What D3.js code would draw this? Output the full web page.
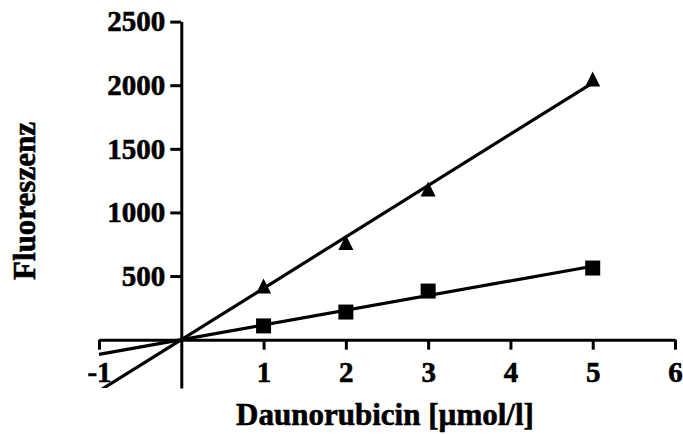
<!DOCTYPE html>
<html>
<head>
<meta charset="utf-8">
<script src="https://cdn.jsdelivr.net/npm/d3@7"></script>
<style>
  html, body { margin: 0; padding: 0; background: #fff; }
  svg { display: block; }
  text { font-family: "Liberation Serif", "Times New Roman", serif; font-weight: bold; fill: #000; stroke: #000; stroke-width: 0.6px; }
</style>
</head>
<body>
<svg id="chart" width="683" height="435"></svg>
<script>
// Data
const concentrations = [1, 2, 3, 5];
const triangleValues = [421, 763, 1184, 2049];
const squareValues = [108, 217, 382, 563];
const xTicks = [-1, 1, 2, 3, 4, 5, 6];
const yTicks = [500, 1000, 1500, 2000, 2500];
const xDomain = [-1, 6];
const yDomain = [-380, 2500];
const fitRange = [-1, 5];

const svg = d3.select("#chart");
const x = d3.scaleLinear().domain(xDomain).range([99, 675]);
const y = d3.scaleLinear().domain(yDomain).range([388, 21.6]);

// least squares through origin
function slopeThroughOrigin(xs, ys) {
  let sxy = 0, sxx = 0;
  xs.forEach((v, i) => { sxy += v * ys[i]; sxx += v * v; });
  return sxy / sxx;
}

svg.append("clipPath").attr("id", "clip")
  .append("rect")
  .attr("x", x(xDomain[0]) - 3).attr("y", y(yDomain[1]))
  .attr("width", x(xDomain[1]) - x(xDomain[0]) + 6)
  .attr("height", y(yDomain[0]) - y(yDomain[1]));

const fmt = d => String(d);

// Axes
const xAxis = svg.append("g")
  .attr("transform", `translate(0,${y(0)})`)
  .call(d3.axisBottom(x).tickValues(xTicks).tickSize(10).tickSizeOuter(0).tickFormat(fmt));
xAxis.selectAll("text").attr("dy", null).attr("y", 42).style("font-size", "29px");

const yAxis = svg.append("g")
  .attr("transform", `translate(${x(0)},0)`)
  .call(d3.axisLeft(y).tickValues(yTicks).tickSize(11).tickSizeOuter(0).tickPadding(5).tickFormat(fmt));
yAxis.selectAll("text").style("font-size", "29px");

svg.selectAll(".domain, .tick line").attr("stroke", "#000").attr("stroke-width", 3);
svg.selectAll(".tick text").attr("fill", "#000");

// Regression lines
const line = d3.line().x(d => x(d[0])).y(d => y(d[1]));
[triangleValues, squareValues].forEach(vals => {
  const k = slopeThroughOrigin(concentrations, vals);
  svg.append("path")
    .attr("clip-path", "url(#clip)")
    .attr("d", line(fitRange.map(v => [v, k * v])))
    .attr("fill", "none").attr("stroke", "#000").attr("stroke-width", 3.2);
});

// Symbols (centered on bounding box)
const triBox = {
  draw(ctx, size) {
    const s = Math.sqrt(size);
    ctx.moveTo(0, -s / 2);
    ctx.lineTo(s / 2, s / 2);
    ctx.lineTo(-s / 2, s / 2);
    ctx.closePath();
  }
};
svg.append("g").selectAll("path")
  .data(concentrations.map((c, i) => [c, triangleValues[i]]))
  .join("path")
  .attr("transform", d => `translate(${x(d[0])},${y(d[1])})`)
  .attr("d", d3.symbol().type(triBox).size(15 * 15))
  .attr("fill", "#000");

svg.append("g").selectAll("path")
  .data(concentrations.map((c, i) => [c, squareValues[i]]))
  .join("path")
  .attr("transform", d => `translate(${x(d[0])},${y(d[1])})`)
  .attr("d", d3.symbol().type(d3.symbolSquare).size(15 * 15))
  .attr("fill", "#000");

// Titles
svg.append("text")
  .attr("x", 385).attr("y", 425)
  .attr("text-anchor", "middle")
  .style("font-size", "31px")
  .text("Daunorubicin [µmol/l]");

svg.append("text")
  .attr("transform", "translate(35,201) rotate(-90)")
  .attr("text-anchor", "middle")
  .style("font-size", "31px")
  .text("Fluoreszenz");
</script>
</body>
</html>
